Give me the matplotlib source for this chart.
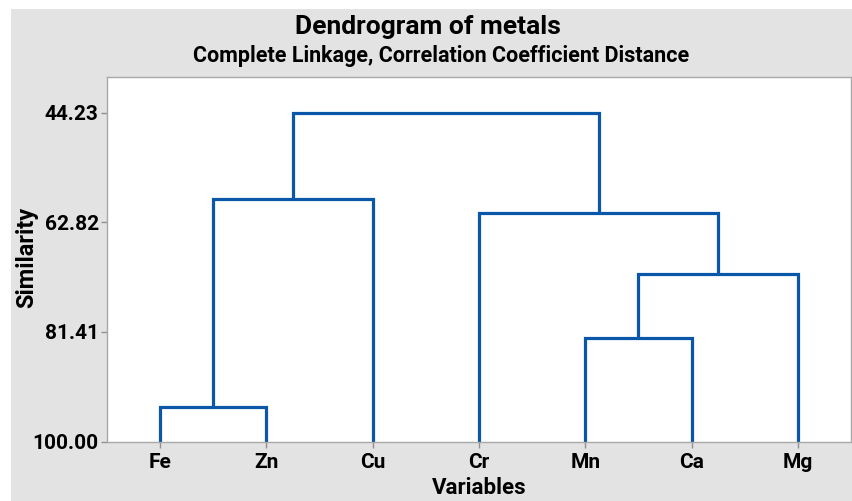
import matplotlib.pyplot as plt
from matplotlib.patches import Rectangle

# leaves in plot order
leaves = ['Fe', 'Zn', 'Cu', 'Cr', 'Mn', 'Ca', 'Mg']
# merges: cluster ids 0..6 are leaves, new clusters get 7, 8, ...
merge_a = [0, 4, 8, 3, 7, 11]
merge_b = [1, 5, 6, 9, 2, 10]
merge_sim = [94.05, 82.43, 71.50, 61.20, 58.93, 44.23]
yticks = [44.23, 62.82, 81.41, 100.00]

blue = '#0a56a8'
gray_bg = '#e3e3e3'
plt.rcParams['font.family'] = ['Roboto', 'DejaVu Sans']
plt.rcParams['font.weight'] = 'bold'

fig = plt.figure(figsize=(8.52, 5.01), dpi=100)
fig.patches.append(Rectangle((11 / 852, 0), 1, 1 - 9 / 501, transform=fig.transFigure,
                             facecolor=gray_bg, edgecolor='none', zorder=-10))
ax = fig.add_axes([107 / 852, 59.3 / 501, 744 / 852, 364.7 / 501])

xpos = {i: float(i) for i in range(len(leaves))}
hgt = {i: 100.0 for i in range(len(leaves))}
for k, (a, b, s) in enumerate(zip(merge_a, merge_b, merge_sim)):
    ax.plot([xpos[a], xpos[a], xpos[b], xpos[b]], [hgt[a], s, s, hgt[b]],
            color=blue, lw=2.3, solid_joinstyle='miter', solid_capstyle='butt')
    new = len(leaves) + k
    xpos[new] = (xpos[a] + xpos[b]) / 2
    hgt[new] = s

ax.set_xlim(-0.5, len(leaves) - 0.5)
ax.set_ylim(100, 38.2)
ax.set_xticks(range(len(leaves)))
ax.set_xticklabels(leaves)
ax.set_yticks(yticks)
ax.set_yticklabels(['%.2f' % v for v in yticks])
ax.tick_params(axis='both', colors='#909090', labelcolor='black', labelsize=15,
               length=4, width=1)
ax.tick_params(axis='x', pad=4)
ax.tick_params(axis='y', pad=2)
for sp in ax.spines.values():
    sp.set_color('#a8a8a8')
    sp.set_linewidth(1)
ax.set_xlabel('Variables', fontsize=16, fontweight='bold')
ax.set_ylabel('Similarity', fontsize=17, fontweight='bold')
ax.xaxis.set_label_coords(0.5, -0.127)
ax.xaxis.label.set_va('center')
ax.yaxis.set_label_coords(-0.1075, 0.506)
ax.yaxis.label.set_va('center')

fig.text(0.502, 0.946, 'Dendrogram of metals', ha='center', va='center',
         fontsize=19, fontweight='bold')
fig.text(0.518, 0.888, 'Complete Linkage, Correlation Coefficient Distance',
         ha='center', va='center', fontsize=15.5, fontweight='bold')

fig.savefig('out.png', dpi=100)
